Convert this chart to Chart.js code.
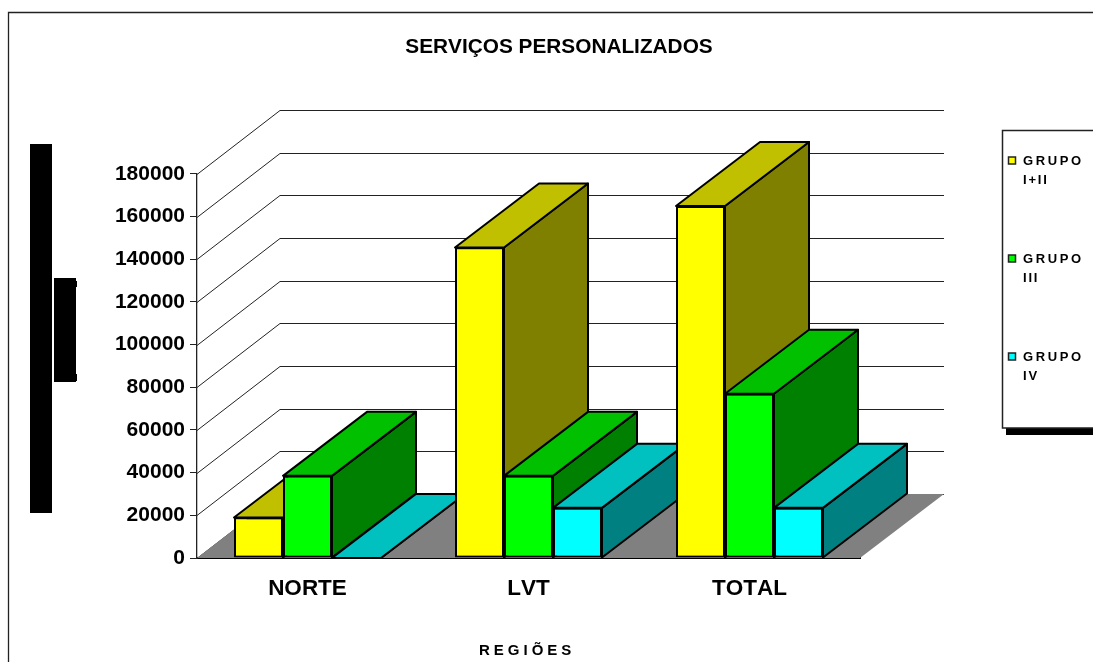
<!DOCTYPE html>
<html lang="pt">
<head>
<meta charset="utf-8">
<title>Serviços personalizados</title>
<script src="https://cdn.jsdelivr.net/npm/chart.js@4"></script>
<style>
  html, body { margin: 0; padding: 0; background: #fff; overflow: hidden; }
  canvas { display: block; }
</style>
</head>
<body>
<canvas id="chart" width="1093" height="662"></canvas>
<script>
// dados
const regioes = ['NORTE', 'LVT', 'TOTAL'];
const grupoI_II = [19000, 145500, 165000];
const grupoIII = [38500, 38500, 77000];
const grupoIV = [0, 23500, 23500];
const nomesSeries = ['GRUPO I+II', 'GRUPO III', 'GRUPO IV'];
const coresFrente = ['#FFFF00', '#00FF00', '#00FFFF'];
const coresTopo = ['#C0C000', '#00C000', '#00C0C0'];
const coresLado = ['#808000', '#008000', '#008080'];

const titulo = 'SERVIÇOS PERSONALIZADOS';
const tituloEixoX = 'REGIÕES';
const FONTE = '"Liberation Sans", Arial, sans-serif';

// profundidade do efeito 3D
const DX = 84;
const DY = 64;

function poligono(ctx, pts, fill, stroke, lw) {
    ctx.beginPath();
    pts.forEach((p, i) => i ? ctx.lineTo(p[0], p[1]) : ctx.moveTo(p[0], p[1]));
    ctx.closePath();
    if (fill) { ctx.fillStyle = fill; ctx.fill(); }
    if (stroke) { ctx.strokeStyle = stroke; ctx.lineWidth = lw; ctx.lineJoin = 'round'; ctx.stroke(); }
}

// paredes e chao
function desenhaFundo(chart) {
    const { ctx, chartArea: a, scales } = chart;
    ctx.save();
    ctx.strokeStyle = '#222';
    ctx.lineWidth = 1;
    scales.y.ticks.forEach(t => {
        const y = Math.round(scales.y.getPixelForValue(t.value)) + 0.5;
        ctx.beginPath();
        ctx.moveTo(a.left, y);
        ctx.lineTo(a.left + DX - 1, y - DY);
        ctx.lineTo(a.right + DX, y - DY);
        ctx.stroke();
    });
    poligono(ctx, [[a.left, a.bottom], [a.left + DX - 1, a.bottom - DY], [a.right + DX, a.bottom - DY], [a.right, a.bottom]], '#808080');
    ctx.restore();
}

// faces de cima e do lado, depois a frente da barra pelo proprio elemento
function desenhaBarras(chart) {
    const { ctx } = chart;
    regioes.forEach((_, i) => {
        chart.data.datasets.forEach((ds, d) => {
            const bar = chart.getDatasetMeta(d).data[i];
            const esq = bar.x - bar.width / 2;
            const dir = bar.x + bar.width / 2;
            const base = bar.base;
            const topo = bar.y;
            ctx.save();
            poligono(ctx, [[dir, topo], [dir + DX, topo - DY], [dir + DX, base - DY], [dir, base]], coresLado[d], '#000', 2);
            poligono(ctx, [[esq, topo], [esq + DX, topo - DY], [dir + DX, topo - DY], [dir, topo]], coresTopo[d], '#000', 2);
            ctx.restore();
            bar.draw(ctx);
        });
    });
}

// moldura, barras pretas da esquerda, legenda e titulo do eixo
function desenhaExtras(chart) {
    const { ctx, chartArea: a } = chart;
    ctx.save();

    ctx.strokeStyle = '#222';
    ctx.lineWidth = 1.3;
    ctx.beginPath();
    ctx.moveTo(8.5, 662);
    ctx.lineTo(8.5, 12.5);
    ctx.lineTo(1093, 12.5);
    ctx.stroke();

    ctx.fillStyle = '#000';
    ctx.fillRect(30, 144, 22, 369);
    ctx.fillRect(54, 278, 22, 104);
    ctx.fillRect(76, 281, 1, 6);
    ctx.fillRect(76, 374, 1, 7);

    // legenda
    ctx.fillStyle = '#000';
    ctx.fillRect(1006, 428, 87, 7);
    ctx.strokeStyle = '#222';
    ctx.lineWidth = 1.5;
    ctx.beginPath();
    ctx.moveTo(1093, 130.5);
    ctx.lineTo(1002.5, 130.5);
    ctx.lineTo(1002.5, 428);
    ctx.lineTo(1093, 428);
    ctx.stroke();

    ctx.font = 'bold 13px ' + FONTE;
    ctx.textAlign = 'left';
    ctx.textBaseline = 'middle';
    chart.data.datasets.forEach((ds, d) => {
        const y = 160.5 + d * 98;
        const partes = ds.label.split(' ');
        ctx.fillStyle = coresFrente[d];
        ctx.fillRect(1008.5, y - 3.5, 7, 7);
        ctx.strokeStyle = '#222';
        ctx.lineWidth = 1.5;
        ctx.strokeRect(1008.5, y - 3.5, 7, 7);
        ctx.fillStyle = '#000';
        ctx.letterSpacing = '2.6px';
        ctx.fillText(partes[0], 1023, y + 0.5);
        ctx.letterSpacing = '1.8px';
        ctx.fillText(partes[1], 1023, y + 20);
    });

    ctx.font = 'bold 15px ' + FONTE;
    ctx.letterSpacing = '4px';
    ctx.fillStyle = '#000';
    ctx.fillText(tituloEixoX, a.left + 282, 651);
    ctx.restore();
}

const plugin3D = {
    id: 'plugin3D',
    beforeDraw(chart) {
        chart.ctx.fontKerning = 'none';
    },
    afterLayout(chart) {
        // titulo fica centrado sobre o grafico todo, nao sobre o canvas
        chart.titleBlock.left = 25;
        chart.titleBlock.right = 1093;
    },
    beforeDatasetsDraw(chart) {
        desenhaFundo(chart);
        desenhaBarras(chart);
        return false;
    },
    afterDraw(chart) {
        desenhaExtras(chart);
    }
};

new Chart(document.getElementById('chart'), {
    type: 'bar',
    data: {
        labels: regioes,
        datasets: [grupoI_II, grupoIII, grupoIV].map((valores, d) => ({
            label: nomesSeries[d],
            data: valores,
            backgroundColor: coresFrente[d],
            borderColor: '#000',
            borderWidth: 2,
            borderSkipped: false,
            categoryPercentage: 0.665,
            barPercentage: 1
        }))
    },
    options: {
        responsive: false,
        animation: false,
        layout: { padding: { left: 0, right: 233, top: 0, bottom: 0 } },
        plugins: {
            legend: { display: false },
            tooltip: { enabled: false },
            title: {
                display: true,
                text: titulo,
                color: '#000',
                font: { family: FONTE, size: 20.8, weight: 'bold' },
                padding: { top: 35, bottom: 114 }
            }
        },
        scales: {
            x: {
                afterFit: s => { s.height = 104; },
                grid: { display: false },
                border: { display: true, color: '#000', width: 2 },
                ticks: { color: '#000', padding: 9, font: { family: FONTE, size: 22.5, weight: 'bold' }, maxRotation: 0 }
            },
            y: {
                min: 0,
                max: 180000,
                afterFit: s => { s.width = 197; },
                grid: { drawOnChartArea: false, drawTicks: true, tickLength: 7, color: '#222' },
                border: { display: true, color: '#222', width: 1.3 },
                ticks: {
                    stepSize: 20000,
                    color: '#000',
                    padding: 5,
                    font: { family: FONTE, size: 21, weight: 'bold' },
                    callback: v => String(v)
                }
            }
        }
    },
    plugins: [plugin3D]
});
</script>
</body>
</html>
